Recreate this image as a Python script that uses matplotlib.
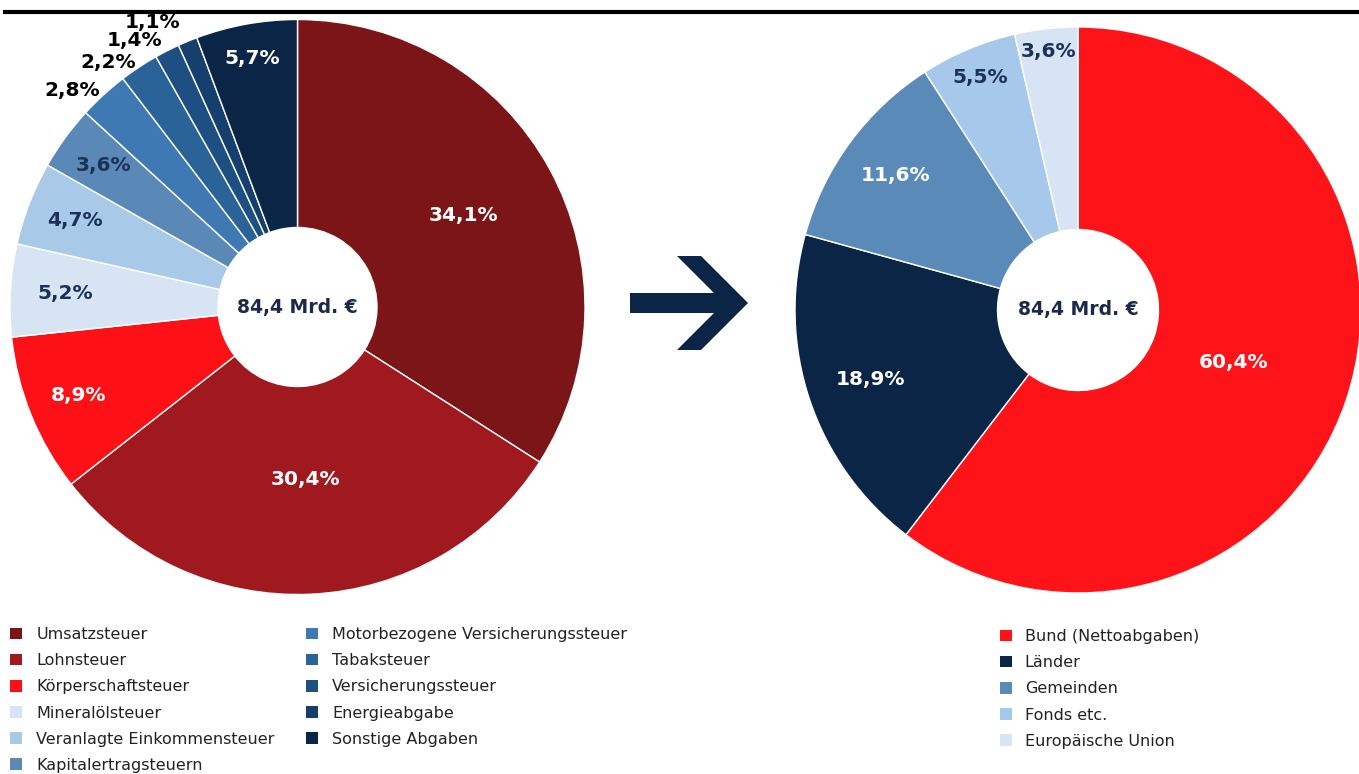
import numpy as np
import matplotlib
matplotlib.use("Agg")
import matplotlib.pyplot as plt
from matplotlib.patches import Patch, Polygon
from matplotlib.lines import Line2D

W, H = 1359, 774

# Steuerarten (linker Ring)
steuer_namen = ["Umsatzsteuer", "Lohnsteuer", "Körperschaftsteuer", "Mineralölsteuer",
                "Veranlagte Einkommensteuer", "Kapitalertragsteuern",
                "Motorbezogene Versicherungssteuer", "Tabaksteuer", "Versicherungssteuer",
                "Energieabgabe", "Sonstige Abgaben"]
steuer_anteile = [34.1, 30.4, 8.9, 5.2, 4.7, 3.6, 2.8, 2.2, 1.4, 1.1, 5.7]
steuer_farben = ["#7c1517", "#a0191f", "#fe1116", "#d6e4f3", "#a9c9e9", "#5a89b8",
                 "#3f79b3", "#2a6398", "#1d4f83", "#153f6c", "#0b2546"]

# Verteilung (rechter Ring)
empf_namen = ["Bund (Nettoabgaben)", "Länder", "Gemeinden", "Fonds etc.", "Europäische Union"]
empf_anteile = [60.4, 18.9, 11.6, 5.5, 3.6]
empf_farben = ["#fe1418", "#0b2546", "#5a8ab8", "#a6c8ea", "#d6e4f3"]

gesamt = "84,4 Mrd. €"

navy = "#0b2546"

# layout: label radius (fraction of ring radius) and label colour
links_r = [0.66, 0.60, 0.82, 0.81, 0.83, 0.835, 1.02, 1.02, 1.04, 1.07, 0.88]
links_tc = ["white", "white", "white", "#1b3157", "#1b3157", "#1b3157",
            "black", "black", "black", "black", "white"]
rechts_r = [0.58, 0.775, 0.80, 0.89, 0.92]
rechts_tc = ["white", "white", "white", "#1b3157", "#1b3157"]


def fmt(v):
    return f"{v:.1f}".replace(".", ",") + "%"


def fx(x):
    return x / W


def fy(y):
    return 1 - y / H


def ring(cx, cy, R, hole, werte, farben, radien, tcols):
    ax = fig.add_axes([fx(cx - R), fy(cy + R), 2 * R / W, 2 * R / H])
    wedges, _ = ax.pie(werte, colors=farben, startangle=90, counterclock=False,
                       wedgeprops=dict(width=1 - hole / R, edgecolor="white", linewidth=1))
    ax.set_xlim(-1, 1)
    ax.set_ylim(-1, 1)
    ax.axis("off")
    for w, v, r, c in zip(wedges, werte, radien, tcols):
        a = np.deg2rad((w.theta1 + w.theta2) / 2)
        ha = "right" if r > 1 else "center"
        ax.text(r * np.cos(a), r * np.sin(a), fmt(v), ha=ha, va="center",
                fontsize=14.5, fontweight="bold", color=c)
    ax.text(0, 0, gesamt, ha="center", va="center", fontsize=13.5,
            fontweight="bold", color="#1b2a4a")
    return ax


fig = plt.figure(figsize=(W / 100, H / 100), dpi=100)

# Linie oben
fig.add_artist(Line2D([fx(5), fx(W)], [fy(12), fy(12)], color="black", linewidth=3,
                      transform=fig.transFigure))

ring(297.5, 307, 287.5, 79.5, steuer_anteile, steuer_farben, links_r, links_tc)
ring(1078, 310, 283, 80.5, empf_anteile, empf_farben, rechts_r, rechts_tc)

# Pfeil
pfeil = [(630, 293), (714, 293), (677, 256), (701, 256), (748, 303),
         (701, 350), (677, 350), (714, 313), (630, 313)]
fig.add_artist(Polygon([(fx(x), fy(y)) for x, y in pfeil], closed=True,
                       facecolor=navy, edgecolor="none", transform=fig.transFigure))

# Legenden
h1 = [Patch(facecolor=c, edgecolor="none") for c in steuer_farben]
fig.legend(h1, steuer_namen, ncol=2, loc="upper left", bbox_to_anchor=(fx(10), fy(627)),
           frameon=False, fontsize=11.5, handlelength=0.75, handleheight=0.75,
           handletextpad=0.9, labelspacing=0.7, columnspacing=1.95, borderpad=0,
           borderaxespad=0, labelcolor="#222222")

h2 = [Patch(facecolor=c, edgecolor="none") for c in empf_farben]
fig.legend(h2, empf_namen, loc="upper left", bbox_to_anchor=(fx(1000), fy(629)),
           frameon=False, fontsize=11.5, handlelength=0.75, handleheight=0.75,
           handletextpad=0.8, labelspacing=0.7, borderpad=0, borderaxespad=0,
           labelcolor="#222222")

fig.savefig("out.png", dpi=100)
